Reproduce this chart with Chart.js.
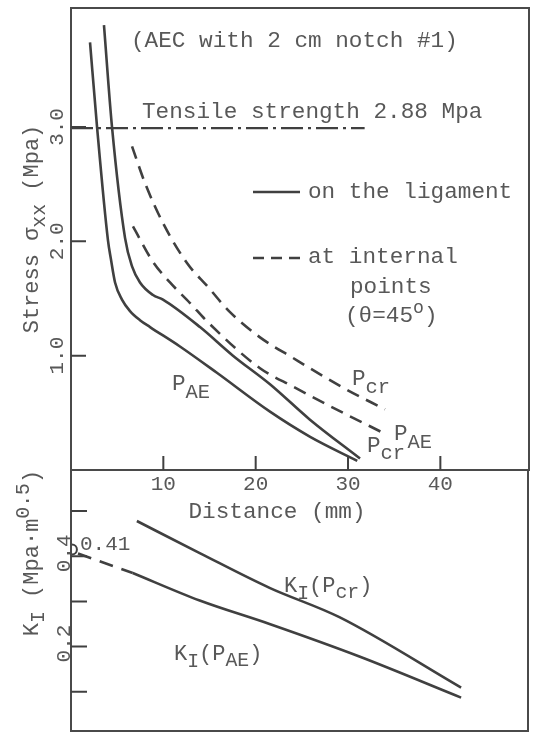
<!DOCTYPE html>
<html><head><meta charset="utf-8">
<script src="https://cdn.jsdelivr.net/npm/chart.js@4.4.0/dist/chart.umd.min.js"></script>
<style>
html,body{margin:0;padding:0;background:#fff;}
#wrap{position:relative;width:535px;height:738px;background:#fff;}
canvas{position:absolute;left:0;top:0;}
</style></head><body>
<div id="wrap"><canvas id="bot" width="535" height="738"></canvas><canvas id="top" width="535" height="738"></canvas></div>
<script>
// ---------- data ----------
// Stress on the ligament, load P_AE
const ligAeX = [2.06, 2.82, 4.0, 4.33, 4.77, 5.52, 6.39, 7.47, 8.56, 11.8, 15.8, 21.55, 25.9, 31.0];
const ligAeY = [3.74, 3.00, 2.01, 1.84, 1.64, 1.49, 1.39, 1.31, 1.25, 1.08, 0.85, 0.51, 0.29, 0.08];
// Stress on the ligament, load P_cr
const ligCrX = [3.57, 4.44, 5.85, 6.61, 7.47, 8.88, 9.96, 13.97, 17.54, 21.55, 25.88, 31.3];
const ligCrY = [3.89, 3.00, 2.03, 1.78, 1.64, 1.53, 1.49, 1.25, 1.00, 0.75, 0.44, 0.10];
// Stress at internal points, load P_cr
const intCrX = [6.61, 8.01, 9.96, 12.56, 14.84, 17.22, 20.47, 24.04, 29.46, 34.0];
const intCrY = [2.83, 2.51, 2.16, 1.81, 1.60, 1.38, 1.16, 0.98, 0.72, 0.53];
// Stress at internal points, load P_AE
const intAeX = [6.71, 8.88, 10.72, 12.89, 14.73, 20.47, 24.04, 29.46, 33.68];
const intAeY = [2.13, 1.82, 1.64, 1.46, 1.30, 0.89, 0.73, 0.50, 0.33];
// Tensile strength line
const tensileX = [0, 31.8];
const tensileY = [2.99, 2.99];
// K_I curves
const kCrX = [7.15, 13.97, 21.55, 29.13, 42.34];
const kCrY = [0.478, 0.407, 0.330, 0.265, 0.109];
const kAeX = [6.7, 13.97, 21.55, 31.3, 42.34];
const kAeY = [0.363, 0.302, 0.250, 0.178, 0.087];
const kAeDashX = [0.76, 6.7];
const kAeDashY = [0.406, 0.363];
const kZeroX = [0.1];
const kZeroY = [0.415];
// ticks
const xTickValues = [10, 20, 30, 40];
const stressTickValues = [1, 2, 3];
const stressTickLabels = ['1.0', '2.0', '3.0'];
const kTickValues = [0.1, 0.2, 0.3, 0.4, 0.5];
const kLabelValues = [0.2, 0.4];
const kTickLabels = ['0.2', '0.4'];

// ---------- style ----------
const INK = '#404040', TXT = '#585858', FRAME = '#4a4a4a';
const FONT = '"Liberation Mono", "DejaVu Sans Mono", monospace';
const FS = 22.7, TFS = 21;
const L = 71, R = 529, T = 8, MID = 470, B = 736;

const pts = (xs, ys) => xs.map((x, i) => ({x, y: ys[i]}));

function rich(ctx, x, y, parts, size, align) {
  let w = 0;
  parts.forEach(p => { ctx.font = (size * (p[2] || 1)) + 'px ' + FONT; w += ctx.measureText(p[0]).width; });
  let cx = align === 'center' ? x - w / 2 : x;
  parts.forEach(p => {
    ctx.font = (size * (p[2] || 1)) + 'px ' + FONT;
    ctx.fillText(p[0], cx, y + (p[1] || 0));
    cx += ctx.measureText(p[0]).width;
  });
}
function richRot(ctx, x, y, parts, size) {
  ctx.save(); ctx.translate(x, y); ctx.rotate(-Math.PI / 2);
  rich(ctx, 0, 0, parts, size, 'center');
  ctx.restore();
}

const topDecor = {
  id: 'topDecor',
  afterDatasetsDraw(chart) {
    const ctx = chart.ctx, xs = chart.scales.x, ys = chart.scales.y, a = chart.chartArea;
    ctx.save();
    ctx.strokeStyle = FRAME; ctx.lineWidth = 2;
    ctx.strokeRect(a.left, a.top, a.right - a.left, a.bottom - a.top);
    ctx.strokeStyle = INK; ctx.lineWidth = 2;
    ctx.beginPath();
    xTickValues.forEach(v => { const px = xs.getPixelForValue(v); ctx.moveTo(px, a.bottom); ctx.lineTo(px, a.bottom - 14); });
    stressTickValues.forEach(v => { const py = ys.getPixelForValue(v); ctx.moveTo(a.left, py); ctx.lineTo(a.left + 15, py); });
    ctx.stroke();
    ctx.fillStyle = TXT; ctx.textBaseline = 'alphabetic'; ctx.textAlign = 'left';
    stressTickValues.forEach((v, i) => richRot(ctx, 63, ys.getPixelForValue(v), [[stressTickLabels[i]]], TFS));
    richRot(ctx, 38, 229, [['Stress σ'], ['xx', 7, 0.9], [' (Mpa)']], 22);
    rich(ctx, 277, 518, [['Distance (mm)']], FS, 'center');
    rich(ctx, 131, 47, [['(AEC with 2 cm notch #1)']], FS);
    rich(ctx, 142, 118, [['Tensile strength 2.88 Mpa']], FS);
    ctx.strokeStyle = INK; ctx.lineWidth = 2.6;
    ctx.beginPath(); ctx.moveTo(253, 192); ctx.lineTo(300, 192); ctx.stroke();
    ctx.setLineDash([11, 7]);
    ctx.beginPath(); ctx.moveTo(253, 258); ctx.lineTo(300, 258); ctx.stroke();
    ctx.setLineDash([]);
    rich(ctx, 308, 198, [['on the ligament']], FS);
    rich(ctx, 308, 263, [['at internal']], FS);
    rich(ctx, 350, 293, [['points']], FS);
    rich(ctx, 345, 322, [['(θ=45'], ['o', -9, 0.8], [')']], FS);
    rich(ctx, 172, 390, [['P'], ['AE', 8, 0.9]], FS);
    rich(ctx, 352, 385, [['P'], ['cr', 8, 0.9]], FS);
    rich(ctx, 394, 440, [['P'], ['AE', 8, 0.9]], FS);
    rich(ctx, 367, 452, [['P'], ['cr', 7, 0.9]], FS);
    ctx.restore();
  }
};

const botDecor = {
  id: 'botDecor',
  afterDatasetsDraw(chart) {
    const ctx = chart.ctx, ys = chart.scales.y, a = chart.chartArea;
    ctx.save();
    ctx.strokeStyle = FRAME; ctx.lineWidth = 2;
    ctx.strokeRect(a.left, a.top, a.right - a.left, a.bottom - a.top);
    ctx.strokeStyle = INK; ctx.lineWidth = 2;
    ctx.beginPath();
    kTickValues.forEach(v => { const py = ys.getPixelForValue(v); ctx.moveTo(a.left, py); ctx.lineTo(a.left + 16, py); });
    ctx.stroke();
    ctx.fillStyle = TXT; ctx.textBaseline = 'alphabetic'; ctx.textAlign = 'left';
    kLabelValues.forEach((v, i) => richRot(ctx, 70, ys.getPixelForValue(v) - 3, [[kTickLabels[i]]], TFS));
    richRot(ctx, 38, 553, [['K'], ['I', 6, 0.9], [' (Mpa·m'], ['0.5', -9, 0.9], [')']], 22);
    rich(ctx, 80, 550, [['0.41']], TFS);
    rich(ctx, 284, 592, [['K'], ['I', 7, 0.9], ['(P'], ['cr', 6, 0.9], [')']], 22);
    rich(ctx, 174, 660, [['K'], ['I', 7, 0.9], ['(P'], ['AE', 6, 0.9], [')']], 22);
    ctx.restore();
  }
};

const lineDS = (xs, ys, extra) => Object.assign({
  data: pts(xs, ys), borderColor: INK, borderWidth: 2.6, pointRadius: 0,
  cubicInterpolationMode: 'monotone', fill: false
}, extra || {});

Chart.defaults.font.family = FONT;
Chart.defaults.color = TXT;

new Chart(document.getElementById('top'), {
  type: 'line',
  data: { datasets: [
    lineDS(ligAeX, ligAeY),
    lineDS(ligCrX, ligCrY),
    lineDS(intCrX, intCrY, {borderDash: [13, 8]}),
    lineDS(intAeX, intAeY, {borderDash: [13, 8]}),
    lineDS(tensileX, tensileY, {borderDash: [22, 5, 3, 5], borderWidth: 2.2, cubicInterpolationMode: 'default', tension: 0})
  ]},
  options: {
    responsive: false, animation: false, devicePixelRatio: 1,
    layout: { padding: { top: T, right: 535 - R, left: 0, bottom: 0 } },
    plugins: { legend: { display: false }, tooltip: { enabled: false } },
    scales: {
      x: { type: 'linear', min: 0, max: 49.6,
        afterFit: s => { s.height = 738 - MID; },
        grid: { display: false, drawTicks: false }, border: { display: false },
        ticks: { stepSize: 10, padding: 2, maxRotation: 0, autoSkip: false,
          font: { size: TFS, family: FONT }, color: TXT,
          callback: v => xTickValues.includes(v) ? String(v) : '' } },
      y: { type: 'linear', min: 0, max: 4.04,
        afterFit: s => { s.width = L; },
        grid: { display: false }, border: { display: false },
        ticks: { display: false, stepSize: 1 } }
    }
  },
  plugins: [topDecor]
});

new Chart(document.getElementById('bot'), {
  type: 'line',
  data: { datasets: [
    lineDS(kCrX, kCrY),
    lineDS(kAeX, kAeY),
    lineDS(kAeDashX, kAeDashY, {borderDash: [14, 9], cubicInterpolationMode: 'default', tension: 0}),
    { data: pts(kZeroX, kZeroY), showLine: false, pointRadius: 5, pointStyle: 'circle',
      pointBorderColor: INK, pointBackgroundColor: 'rgba(0,0,0,0)', pointBorderWidth: 2 }
  ]},
  options: {
    responsive: false, animation: false, devicePixelRatio: 1,
    layout: { padding: { top: MID, right: 535 - R, left: 0, bottom: 738 - B } },
    plugins: { legend: { display: false }, tooltip: { enabled: false } },
    scales: {
      x: { type: 'linear', min: 0, max: 49.6, display: false },
      y: { type: 'linear', min: 0.013, max: 0.591,
        afterFit: s => { s.width = L; },
        grid: { display: false }, border: { display: false },
        ticks: { display: false, stepSize: 0.1, includeBounds: false } }
    }
  },
  plugins: [botDecor]
});
</script>
</body></html>
